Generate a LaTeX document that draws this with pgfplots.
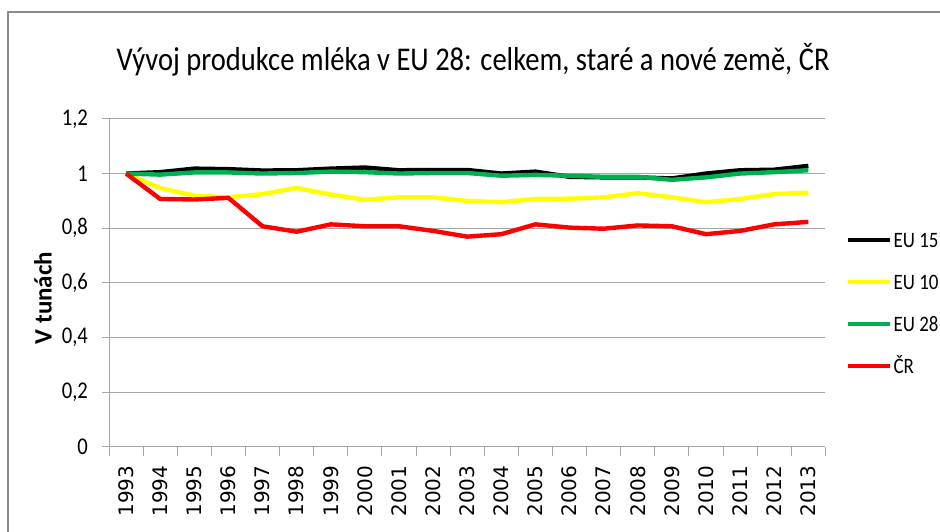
\documentclass[border=0pt]{standalone}
\usepackage{fontspec}
\setmainfont{Carlito}[FakeStretch=0.86]
\newfontfamily\carlitorot{Carlito}
\newfontfamily\dejavu{DejaVu Sans}
\usepackage{pgfplots}
\pgfplotsset{compat=1.18}
\usepackage{pgfplotstable}
\definecolor{gridgray}{HTML}{A6A6A6}
\definecolor{framegray}{HTML}{8C8C8C}
\definecolor{eugreen}{HTML}{00B050}
\definecolor{euyellow}{HTML}{FFFF00}
\definecolor{eured}{HTML}{FF0000}
\pgfplotstableread{
x  eu15   eu10   eu28   cr
0  1.000  1.000  1.000  1.000
1  1.005  0.947  0.996  0.907
2  1.018  0.919  1.004  0.905
3  1.016  0.913  1.004  0.911
4  1.011  0.925  1.000  0.807
5  1.012  0.947  1.002  0.787
6  1.018  0.923  1.007  0.814
7  1.022  0.904  1.005  0.807
8  1.012  0.913  1.000  0.807
9  1.013  0.913  1.002  0.790
10 1.013  0.900  1.002  0.769
11 1.000  0.895  0.992  0.778
12 1.007  0.907  0.995  0.814
13 0.988  0.908  0.992  0.802
14 0.986  0.913  0.988  0.798
15 0.986  0.928  0.988  0.810
16 0.982  0.913  0.977  0.807
17 1.000  0.895  0.986  0.778
18 1.012  0.907  1.000  0.790
19 1.014  0.925  1.005  0.814
20 1.028  0.930  1.012  0.823
}\datatable
\begin{document}
\begin{tikzpicture}
\useasboundingbox (0,0) rectangle (470pt,265.5pt);
\draw[framegray, line width=0.8pt] (4pt,-20pt) -- (4pt,259.5pt) -- (490pt,259.5pt);
\node[anchor=base, font=\fontsize{16.6}{19}\selectfont] at (236.5pt,230.15pt) {Vývoj produkce mléka v EU 28: celkem, staré a nové země, ČR};
\node[rotate=90, font=\carlitorot\bfseries\fontsize{12.5}{14}\selectfont] at (21.5pt,116.5pt) {V tunách};
\begin{axis}[
  scale only axis,
  width=358.2pt, height=163.9pt,
  at={(54.5pt,42.15pt)}, anchor=south west,
  xmin=-0.5, xmax=20.5, ymin=0, ymax=1.2,
  axis x line*=bottom, axis y line*=left,
  axis line style={gridgray, line width=0.5pt, -},
  xtick={0,...,20},
  xticklabels={1993,1994,1995,1996,1997,1998,1999,2000,2001,2002,2003,2004,2005,2006,2007,2008,2009,2010,2011,2012,2013},
  minor xtick={-0.5,0.5,...,20.5},
  major x tick style={draw=none},
  minor tick length=4.5pt,
  tick align=outside,
  tick style={gridgray, line width=0.5pt},
  xticklabel style={rotate=90, anchor=east, font=\dejavu\fontsize{10}{12}\selectfont},
  xticklabel shift=2.5pt,
  ytick={0,0.2,0.4,0.6,0.8,1,1.2},
  major tick length=3.5pt,
  yticklabel style={font=\fontsize{12}{14}\selectfont},
  yticklabel shift=3.5pt,
  /pgf/number format/use comma,
  /pgf/number format/assume math mode=true,
  ymajorgrids,
  grid style={gridgray, line width=0.5pt},
  legend style={at={(axis description cs:1.0285,0.6683)}, anchor=north west, draw=none, fill=none,
    inner sep=0pt, row sep=9pt, column sep=0pt, font=\fontsize{11}{14}\selectfont,
    nodes={inner sep=0.5pt, text height=9pt, text depth=2pt}},
  legend cell align=left,
  legend image code/.code={\draw[#1] (0pt,0pt) -- (21pt,0pt);},
  every axis plot/.append style={line width=2.2pt, line join=round},
  clip=false,
]
\addplot[black] table[x=x, y=eu15] {\datatable};
\addplot[euyellow] table[x=x, y=eu10] {\datatable};
\addplot[eugreen] table[x=x, y=eu28] {\datatable};
\addplot[eured] table[x=x, y=cr] {\datatable};
\legend{EU 15, EU 10, EU 28, ČR}
\end{axis}
\end{tikzpicture}
\end{document}
